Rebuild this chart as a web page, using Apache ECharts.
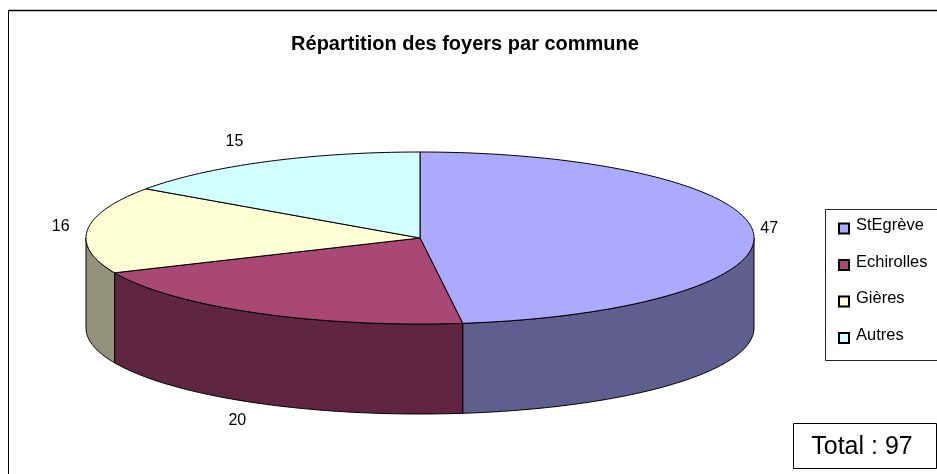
<!DOCTYPE html>
<html><head><meta charset="utf-8">
<style>html,body{margin:0;padding:0;background:#fff}#c{width:937px;height:474px}</style>
<script src="https://cdn.jsdelivr.net/npm/echarts@6/dist/echarts.min.js"></script>
</head><body><div id="c"></div>
<script>
const categories = ['StEgrève', 'Echirolles', 'Gières', 'Autres'];
const values = [47, 20, 16, 15];
const topColors = ['#AAAAFF', '#A94874', '#FFFFD5', '#D2FFFF'];
const sideColors = ['#5F5F8F', '#602540', '#93937A', '#758F8F'];
const titleText = 'Répartition des foyers par commune';
const totalText = 'Total : 97';

const FONT = '"Liberation Sans", Arial, sans-serif';
const cx = 420, cy = 238, rx = 334, ry = 86, depth = 90;
const labelNudge = [[-8, -2], [-7, -3], [-3, -1], [-20, 1]];
const sum = values.reduce((a, b) => a + b, 0);
const pt = (deg, dy) => {
  const t = deg * Math.PI / 180;
  return [cx + rx * Math.sin(t), cy - ry * Math.cos(t) + (dy || 0)];
};
const arc = (a, b, dy) => {
  const out = [];
  const n = Math.max(2, Math.ceil(b - a));
  for (let i = 0; i <= n; i++) out.push(pt(a + (b - a) * i / n, dy));
  return out;
};
const makeRender = idx => (params, api) => {
  const a0 = api.value(0) / sum * 360;
  const a1 = (api.value(0) + api.value(1)) / sum * 360;
  const children = [];
  const w0 = Math.max(a0, 90), w1 = Math.min(a1, 270);
  if (w1 > w0) {
    children.push({
      type: 'polygon',
      shape: { points: arc(w0, w1, 0).concat(arc(w0, w1, depth).reverse()) },
      style: { fill: sideColors[idx], stroke: '#000', lineWidth: 1 },
      silent: true
    });
  }
  children.push({
    type: 'polygon',
    shape: { points: [[cx, cy]].concat(arc(a0, a1, 0)) },
    style: { fill: topColors[idx], stroke: '#000', lineWidth: 1, lineJoin: 'round' },
    silent: true
  });
  const mid = (a0 + a1) / 2 * Math.PI / 180;
  const s = Math.sin(mid), c = Math.cos(mid);
  children.push({
    type: 'text',
    style: {
      text: String(api.value(1)),
      x: cx + (rx + 24) * s + labelNudge[idx][0],
      y: cy - (ry + 24) * c + (c < -0.5 ? depth : 0) + labelNudge[idx][1],
      align: 'center', verticalAlign: 'middle',
      font: '16px ' + FONT, fill: '#000'
    },
    silent: true
  });
  return { type: 'group', children };
};
let acc = 0;
const series = categories.map((name, i) => {
  const item = [acc, values[i]];
  acc += values[i];
  return {
    type: 'custom', name, coordinateSystem: 'none',
    data: [item], renderItem: makeRender(i), animation: false,
    itemStyle: { color: topColors[i], borderColor: '#000', borderWidth: 1 },
    z: 3
  };
});
const chart = echarts.init(document.getElementById('c'), null, { renderer: 'canvas' });
chart.setOption({
  animation: false,
  backgroundColor: '#fff',
  title: {
    text: titleText, left: 460, top: 29, textAlign: 'center',
    textStyle: { fontFamily: FONT, fontSize: 20, fontWeight: 'bold', color: '#000' }
  },
  legend: {
    data: categories, orient: 'vertical', left: 833, top: 212,
    icon: 'rect', itemWidth: 10, itemHeight: 10, itemGap: 19, selectedMode: false,
    formatter: name => '{a|' + name + '}',
    textStyle: { rich: { a: { fontFamily: FONT, fontSize: 16.5, color: '#000', padding: [0, 0, 6, 2] } } }
  },
  series,
  graphic: [
    { type: 'line', z: 1, silent: true, shape: { x1: 8.5, y1: 10.5, x2: 937, y2: 10.5 }, style: { stroke: '#000', lineWidth: 1.4 } },
    { type: 'line', z: 1, silent: true, shape: { x1: 8.5, y1: 10.5, x2: 8.5, y2: 474 }, style: { stroke: '#000', lineWidth: 1 } },
    { type: 'rect', z: 1, silent: true, shape: { x: 825.5, y: 209.5, width: 130, height: 151 }, style: { fill: '#fff', stroke: '#222', lineWidth: 1 } },
    { type: 'rect', z: 1, silent: true, shape: { x: 793.5, y: 423.5, width: 143, height: 45 }, style: { fill: '#fff', stroke: '#000', lineWidth: 1 } },
    { type: 'text', z: 5, silent: true, style: { text: totalText, x: 862, y: 447, align: 'center', verticalAlign: 'middle', font: '25px ' + FONT, fill: '#000' } }
  ]
});
</script></body></html>
